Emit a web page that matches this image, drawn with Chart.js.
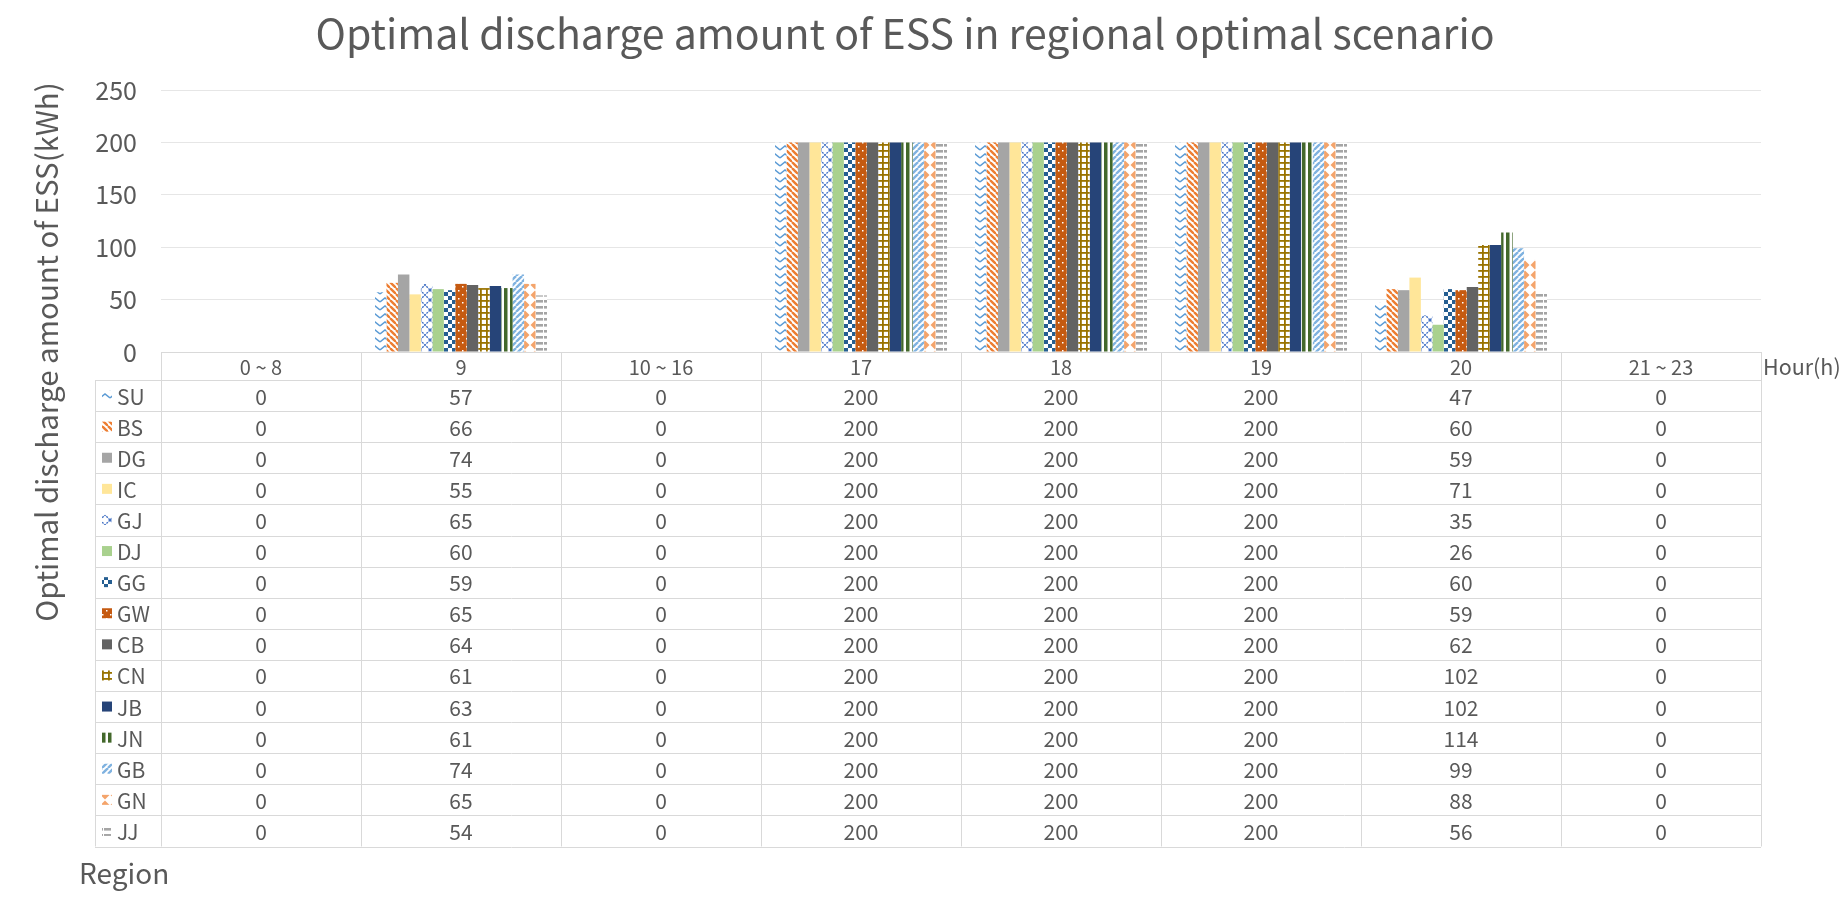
<!DOCTYPE html>
<html>
<head>
<meta charset="utf-8">
<script src="https://cdn.jsdelivr.net/npm/chart.js@4.4.1/dist/chart.umd.min.js"></script>
<style>
  body { margin: 0; background: #fff; }
  #wrap { width: 1843px; height: 910px; }
</style>
</head>
<body>
<div id="wrap"><canvas id="essChart" width="1843" height="910"></canvas></div>
<script>
  // categories (hours) and regions
  const hours = ['0 ~ 8', '9', '10 ~ 16', '17', '18', '19', '20', '21 ~ 23'];
  const regions = ['SU', 'BS', 'DG', 'IC', 'GJ', 'DJ', 'GG', 'GW', 'CB', 'CN', 'JB', 'JN', 'GB', 'GN', 'JJ'];
  const yTicks = [0, 50, 100, 150, 200, 250];

  // discharge per region (kWh), one value per hour group
  const su = [0, 57, 0, 200, 200, 200, 47, 0];
  const bs = [0, 66, 0, 200, 200, 200, 60, 0];
  const dg = [0, 74, 0, 200, 200, 200, 59, 0];
  const ic = [0, 55, 0, 200, 200, 200, 71, 0];
  const gj = [0, 65, 0, 200, 200, 200, 35, 0];
  const dj = [0, 60, 0, 200, 200, 200, 26, 0];
  const gg = [0, 59, 0, 200, 200, 200, 60, 0];
  const gw = [0, 65, 0, 200, 200, 200, 59, 0];
  const cb = [0, 64, 0, 200, 200, 200, 62, 0];
  const cn = [0, 61, 0, 200, 200, 200, 102, 0];
  const jb = [0, 63, 0, 200, 200, 200, 102, 0];
  const jn = [0, 61, 0, 200, 200, 200, 114, 0];
  const gb = [0, 74, 0, 200, 200, 200, 99, 0];
  const gn = [0, 65, 0, 200, 200, 200, 88, 0];
  const jj = [0, 54, 0, 200, 200, 200, 56, 0];
  const seriesValues = [su, bs, dg, ic, gj, dj, gg, gw, cb, cn, jb, jn, gb, gn, jj];

  const FONT = "'Noto Sans CJK KR', 'Open Sans', sans-serif";
  const TEXT = '#595959';
  const LINE = '#d9d9d9';

  // little helper for excel-like fill patterns
  function tile(w, h, draw) {
    const c = document.createElement('canvas');
    c.width = w; c.height = h;
    const g = c.getContext('2d');
    g.fillStyle = '#fff';
    g.fillRect(0, 0, w, h);
    draw(g);
    return g.createPattern(c, 'repeat');
  }
  function solid(col) { return tile(4, 4, g => { g.fillStyle = col; g.fillRect(0, 0, 4, 4); }); }

  const fills = [
    // SU zigzag
    tile(10, 8, g => { g.strokeStyle = '#5b9bd5'; g.lineWidth = 1.5; g.beginPath(); g.moveTo(0, 6); g.lineTo(5, 2); g.lineTo(10, 6); g.stroke(); }),
    // BS wide downward diagonal
    tile(6, 6, g => { g.strokeStyle = '#ed7d31'; g.lineWidth = 2.4; for (let k = -1; k <= 1; k++) { g.beginPath(); g.moveTo(k * 6, 0); g.lineTo(k * 6 + 6, 6); g.stroke(); } }),
    solid('#a5a5a5'),
    solid('#ffe699'),
    // GJ dotted diamond
    tile(10, 10, g => { g.strokeStyle = '#4472c4'; g.lineWidth = 1.4; g.setLineDash([2, 1]); g.beginPath(); g.moveTo(0, 0); g.lineTo(10, 10); g.moveTo(10, 0); g.lineTo(0, 10); g.stroke(); }),
    solid('#a9d18e'),
    // GG checker
    tile(8, 8, g => { g.fillStyle = '#255e91'; g.fillRect(0, 0, 4, 4); g.fillRect(4, 4, 4, 4); }),
    // GW dots
    tile(8, 8, g => { g.fillStyle = '#c55a11'; g.fillRect(0, 0, 8, 8); g.fillStyle = '#fff'; g.fillRect(2, 2, 1.5, 1.5); g.fillRect(6, 6, 1.5, 1.5); }),
    solid('#636363'),
    // CN grid
    tile(6, 6, g => { g.fillStyle = '#997300'; g.fillRect(0, 0, 6, 1.8); g.fillRect(0, 0, 1.8, 6); }),
    solid('#264478'),
    // JN wide vertical
    tile(6, 4, g => { g.fillStyle = '#43682b'; g.fillRect(0, 0, 3.5, 4); }),
    // GB wide upward diagonal
    tile(6, 6, g => { g.strokeStyle = '#7fb2e0'; g.lineWidth = 2.4; for (let k = -1; k <= 1; k++) { g.beginPath(); g.moveTo(k * 6, 6); g.lineTo(k * 6 + 6, 0); g.stroke(); } }),
    // GN solid diamond
    tile(10, 10, g => { g.fillStyle = '#f4a46b'; g.beginPath(); g.moveTo(5, 0.5); g.lineTo(9.5, 5); g.lineTo(5, 9.5); g.lineTo(0.5, 5); g.closePath(); g.fill(); }),
    // JJ dashed horizontal
    tile(8, 6, g => { g.fillStyle = '#a5a5a5'; g.fillRect(0, 0, 7, 2.6); })
  ];

  const HEADER_H = 28;
  const ROW_H = 31.1;
  const TABLE_LEFT = 95;

  const tablePlugin = {
    id: 'dataTable',
    afterDraw(chart) {
      const ctx = chart.ctx;
      const a = chart.chartArea;
      const n = hours.length;
      const cw = (a.right - a.left) / n;
      const top = a.bottom;
      const rowsTop = top + HEADER_H;
      const bottom = rowsTop + regions.length * ROW_H;

      ctx.save();
      ctx.strokeStyle = LINE;
      ctx.lineWidth = 1;
      ctx.beginPath();
      for (let i = 0; i <= n; i++) {
        const x = Math.round(a.left + i * cw) + 0.5;
        ctx.moveTo(x, top); ctx.lineTo(x, bottom);
      }
      ctx.moveTo(TABLE_LEFT + 0.5, rowsTop); ctx.lineTo(TABLE_LEFT + 0.5, bottom);
      ctx.moveTo(a.left, Math.round(top) + 0.5); ctx.lineTo(a.right, Math.round(top) + 0.5);
      for (let r = 0; r <= regions.length; r++) {
        const y = Math.round(rowsTop + r * ROW_H) + 0.5;
        ctx.moveTo(TABLE_LEFT, y); ctx.lineTo(a.right, y);
      }
      ctx.stroke();

      ctx.fillStyle = TEXT;
      ctx.textBaseline = 'middle';
      ctx.textAlign = 'center';
      ctx.font = '20px ' + FONT;
      hours.forEach((h, i) => ctx.fillText(h, a.left + (i + 0.5) * cw, top + HEADER_H / 2 + 1));

      ctx.font = '21px ' + FONT;
      regions.forEach((reg, r) => {
        const cy = rowsTop + (r + 0.5) * ROW_H + 1;
        ctx.fillStyle = fills[r];
        ctx.fillRect(TABLE_LEFT + 7, cy - 6, 10, 10);
        ctx.fillStyle = TEXT;
        ctx.textAlign = 'left';
        ctx.fillText(reg, TABLE_LEFT + 22, cy);
        ctx.textAlign = 'center';
        seriesValues[r].forEach((v, i) => ctx.fillText(String(v), a.left + (i + 0.5) * cw, cy));
      });

      // titles
      ctx.font = '41px ' + FONT;
      ctx.textAlign = 'center';
      ctx.textBaseline = 'alphabetic';
      ctx.fillText('Optimal discharge amount of ESS in regional optimal scenario', 905, 49);

      ctx.textAlign = 'left';
      ctx.textBaseline = 'middle';
      ctx.font = '28px ' + FONT;
      ctx.fillText('Region', 79, 873);
      // keep "Hour(h)" inside the canvas
      let hs = 26;
      ctx.font = hs + 'px ' + FONT;
      while (ctx.measureText('Hour(h)').width > 1843 - 1763 - 1 && hs > 16) {
        hs -= 0.5;
        ctx.font = hs + 'px ' + FONT;
      }
      ctx.fillText('Hour(h)', 1763, top + HEADER_H / 2 + 1);

      ctx.translate(47, 352);
      ctx.rotate(-Math.PI / 2);
      ctx.textAlign = 'center';
      ctx.font = '29.5px ' + FONT;
      ctx.fillText('Optimal discharge amount of ESS(kWh)', 0, 0);
      ctx.restore();
    }
  };

  new Chart(document.getElementById('essChart'), {
    type: 'bar',
    data: {
      labels: hours,
      datasets: regions.map((reg, r) => ({
        label: reg,
        data: seriesValues[r],
        backgroundColor: fills[r],
        borderWidth: 0,
        categoryPercentage: 0.86,
        barPercentage: 1.0
      }))
    },
    options: {
      responsive: false,
      animation: false,
      devicePixelRatio: 1,
      layout: { padding: { left: 0, right: 82, top: 90, bottom: 558 } },
      plugins: { legend: { display: false }, tooltip: { enabled: false }, title: { display: false } },
      scales: {
        x: { display: false },
        y: {
          min: 0,
          max: 250,
          afterBuildTicks: s => { s.ticks = yTicks.map(v => ({ value: v })); },
          afterFit: s => { s.width = 161; },
          border: { display: false },
          grid: { color: '#e6e6e6', drawTicks: false },
          ticks: { color: TEXT, padding: 24, font: { family: FONT, size: 25 } }
        }
      }
    },
    plugins: [tablePlugin]
  });
</script>
</body>
</html>
